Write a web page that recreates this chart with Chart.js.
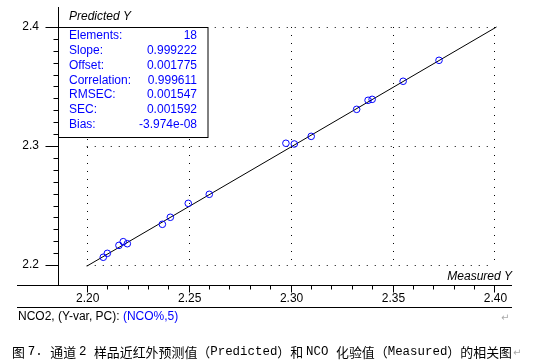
<!DOCTYPE html>
<html>
<head>
<meta charset="utf-8">
<script src="https://cdn.jsdelivr.net/npm/chart.js@4.4.0/dist/chart.umd.min.js"></script>
<style>
  html, body { margin: 0; padding: 0; background: #fff; overflow: hidden; }
  canvas { display: block; }
</style>
</head>
<body>
<canvas id="nirChart" width="534" height="364"></canvas>
<script>
// measured (x) vs predicted (y) NCO values
const measured  = [2.2081, 2.2101, 2.2158, 2.2179, 2.2199, 2.2371, 2.2410, 2.2498, 2.2601,
                   2.2977, 2.3018, 2.3101, 2.3324, 2.3380, 2.3400, 2.3552, 2.3728];
const predicted = [2.2065, 2.2098, 2.2165, 2.2196, 2.2179, 2.2342, 2.2401, 2.2518, 2.2594,
                   2.3023, 2.3017, 2.3081, 2.3308, 2.3384, 2.3392, 2.3544, 2.3720];

// fit line end points
const lineX = [2.2000, 2.4010];
const lineY = [2.1990, 2.4000];

const xTicks = [2.20, 2.25, 2.30, 2.35, 2.40];
const xLabels = ['2.20', '2.25', '2.30', '2.35', '2.40'];
const yTicks = [2.2, 2.3, 2.4];
const yLabels = ['2.2', '2.3', '2.4'];

const statNames  = ['Elements:', 'Slope:', 'Offset:', 'Correlation:', 'RMSEC:', 'SEC:', 'Bias:'];
const statValues = ['18', '0.999222', '0.001775', '0.999611', '0.001547', '0.001592', '-3.974e-08'];

const BLUE = '#0000ff';
const SANS = '"Liberation Sans", Arial, sans-serif';

const framePlugin = {
  id: 'framePlugin',
  beforeDatasetsDraw(chart) {
    const { ctx, chartArea: a, scales: { x, y } } = chart;
    ctx.save();
    ctx.strokeStyle = '#000';
    ctx.lineWidth = 1;
    ctx.setLineDash([1, 7]);
    const x0 = x.getPixelForValue(xTicks[0]), x1 = x.getPixelForValue(xTicks[xTicks.length - 1]);
    const y0 = y.getPixelForValue(yTicks[0]), y1 = y.getPixelForValue(yTicks[yTicks.length - 1]);
    xTicks.forEach(v => {
      const px = Math.round(x.getPixelForValue(v)) + 0.5;
      ctx.beginPath(); ctx.moveTo(px, y1); ctx.lineTo(px, y0); ctx.stroke();
    });
    yTicks.forEach(v => {
      const py = Math.round(y.getPixelForValue(v)) + 0.5;
      ctx.beginPath(); ctx.moveTo(x0, py); ctx.lineTo(x1, py); ctx.stroke();
    });
    ctx.restore();
  },
  afterDatasetsDraw(chart) {
    const { ctx, chartArea: a, scales: { x, y } } = chart;
    ctx.save();
    ctx.strokeStyle = '#000';
    ctx.lineWidth = 1;
    const L = Math.round(a.left) + 0.5, B = Math.round(a.bottom) + 0.5;

    // axis lines
    ctx.beginPath();
    ctx.moveTo(L, a.top); ctx.lineTo(L, B);
    ctx.moveTo(17, B); ctx.lineTo(a.right, B);
    ctx.moveTo(17, 307.5); ctx.lineTo(a.right, 307.5);
    ctx.stroke();

    // y ticks
    ctx.beginPath();
    for (let i = 21; i <= 39; i++) {
      const py = Math.round(y.getPixelForValue(i / 100 + 2)) + 0.5;
      if (i % 10 === 0) continue;
      ctx.moveTo(L - 5, py); ctx.lineTo(L, py);
    }
    yTicks.forEach(v => {
      const py = Math.round(y.getPixelForValue(v)) + 0.5;
      ctx.moveTo(L - 13, py); ctx.lineTo(L, py);
    });
    // x ticks
    for (let i = 21; i <= 39; i++) {
      if (i % 5 === 0) continue;
      const px = Math.round(x.getPixelForValue(i / 100 + 2)) + 0.5;
      ctx.moveTo(px, B); ctx.lineTo(px, B + 4);
    }
    xTicks.forEach(v => {
      const px = Math.round(x.getPixelForValue(v)) + 0.5;
      ctx.moveTo(px, B); ctx.lineTo(px, B + 7);
    });
    ctx.stroke();

    ctx.fillStyle = '#000';
    ctx.font = '12px ' + SANS;
    ctx.textBaseline = 'middle';
    ctx.textAlign = 'right';
    yTicks.forEach((v, i) => ctx.fillText(yLabels[i], 39, y.getPixelForValue(v)));
    ctx.textAlign = 'center';
    xTicks.forEach((v, i) => ctx.fillText(xLabels[i], x.getPixelForValue(v) + 1, 298.5));

    // axis titles
    ctx.font = 'italic 12px ' + SANS;
    ctx.textAlign = 'left';
    ctx.fillText('Predicted Y', 69, 17);
    ctx.textAlign = 'right';
    ctx.fillText('Measured Y', 512, 276.5);

    // stats box
    const bTop = Math.round(y.getPixelForValue(yTicks[2])) + 0.5;
    ctx.fillStyle = '#fff';
    ctx.fillRect(L, bTop, 208 - L, 137.5 - bTop);
    ctx.strokeRect(L, bTop, 208 - L, 137.5 - bTop);
    ctx.font = '12px ' + SANS;
    ctx.fillStyle = BLUE;
    statNames.forEach((n, i) => {
      const ty = 35.5 + i * 14.9;
      ctx.textAlign = 'left';
      ctx.fillText(n, 69, ty);
      ctx.textAlign = 'right';
      ctx.fillText(statValues[i], 197, ty);
    });

    // footer line
    ctx.textAlign = 'left';
    ctx.fillStyle = '#000';
    ctx.fillText('NCO2, (Y-var, PC): ', 18, 316.5);
    const w = ctx.measureText('NCO2, (Y-var, PC): ').width;
    ctx.fillStyle = BLUE;
    ctx.fillText('(NCO%,5)', 18 + w, 316.5);
    ctx.fillStyle = '#aaa';
    ctx.font = '10px "DejaVu Sans", sans-serif';
    ctx.fillText('↵', 501, 318);

    // caption
    const cjk = '13px "Noto Sans CJK SC", sans-serif';
    const lat = '12.5px "Liberation Mono", monospace';
    const segs = [[cjk, '图 '], [lat, '7. '], [cjk, '通道 '], [lat, '2 '], [cjk, '样品近红外预测值（'],
                  [lat, 'Predicted'], [cjk, '）和 '], [lat, 'NCO '], [cjk, '化验值（'], [lat, 'Measured'],
                  [cjk, '）的相关图']];
    let total = 0;
    segs.forEach(s => { ctx.font = s[0]; total += ctx.measureText(s[1]).width; });
    const k = (512 - 12) / total;
    ctx.save();
    ctx.translate(12, 352);
    ctx.scale(k, 1);
    ctx.fillStyle = '#000';
    let cx = 0;
    segs.forEach(s => { ctx.font = s[0]; ctx.fillText(s[1], cx, 0); cx += ctx.measureText(s[1]).width; });
    ctx.restore();
    ctx.fillStyle = '#aaa';
    ctx.font = '10px "DejaVu Sans", sans-serif';
    ctx.fillText('↵', 513, 353);
    ctx.restore();
  }
};

new Chart(document.getElementById('nirChart'), {
  type: 'scatter',
  data: {
    datasets: [{
      data: measured.map((m, i) => ({ x: m, y: predicted[i] })),
      pointStyle: 'circle',
      pointRadius: 3.3,
      borderColor: BLUE,
      backgroundColor: 'rgba(0,0,0,0)',
      borderWidth: 1,
      order: 1
    }, {
      type: 'line',
      data: lineX.map((v, i) => ({ x: v, y: lineY[i] })),
      borderColor: '#000',
      borderWidth: 1,
      pointRadius: 0,
      fill: false,
      order: 2
    }]
  },
  options: {
    responsive: false,
    animation: false,
    layout: { padding: { left: 58, right: 22, top: 7, bottom: 79 } },
    plugins: { legend: { display: false }, tooltip: { enabled: false } },
    scales: {
      x: { type: 'linear', min: 2.1859, max: 2.4086, display: false },
      y: { type: 'linear', min: 2.1832, max: 2.4168, display: false }
    }
  },
  plugins: [framePlugin]
});
</script>
</body>
</html>
